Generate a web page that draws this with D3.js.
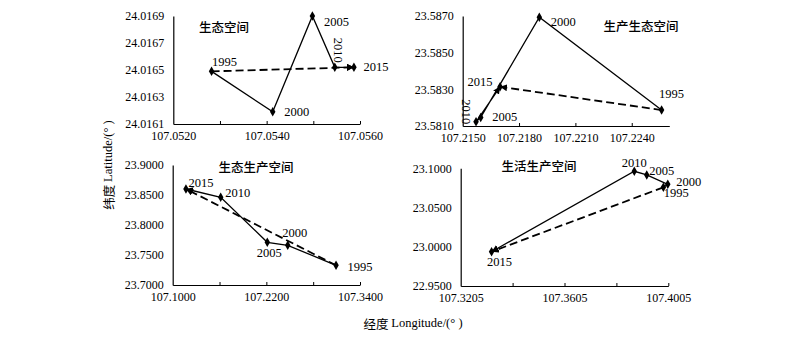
<!DOCTYPE html>
<html>
<head>
<meta charset="utf-8">
<script src="https://cdn.jsdelivr.net/npm/d3@7"></script>
<style>
  html, body { margin: 0; padding: 0; background: #fff; }
  svg { display: block; }
  .tick text { font-family: "Liberation Serif", "Times New Roman", serif; font-size: 12px; fill: #000; }
</style>
</head>
<body>
<svg id="chart" width="800" height="338"></svg>
<script>
// ---- data: centroid trajectories of four spatial types, 1995–2015 ----
const years = [1995, 2000, 2005, 2010, 2015];

const titles = ["生态空间", "生产生态空间", "生态生产空间", "生活生产空间"];

const lonEco      = [107.05282, 107.05413, 107.05498, 107.05546, 107.05587];
const latEco      = [24.01649, 24.01619, 24.01690, 24.01652, 24.01652];

const lonProdEco  = [107.22559, 107.21908, 107.21596, 107.21571, 107.21699];
const latProdEco  = [23.58187, 23.58693, 23.58147, 23.58123, 23.58314];

const lonEcoProd  = [107.3093, 107.2474, 107.2212, 107.1615, 107.1170];
const latEcoProd  = [23.7328, 23.7662, 23.7712, 23.8462, 23.8600];

const lonLifeProd = [107.3986, 107.4003, 107.3922, 107.3874, 107.3324];
const latLifeProd = [23.0758, 23.0796, 23.0915, 23.0962, 22.9937];

// axis domains and tick values
const xDomains = [[107.052, 107.056], [107.215, 107.226], [107.10, 107.34], [107.3205, 107.4005]];
const yDomains = [[24.0161, 24.0169], [23.581, 23.587], [23.70, 23.90], [22.95, 23.10]];
const xTicks = [
  [107.052, 107.053, 107.054, 107.055, 107.056],
  [107.215, 107.218, 107.221, 107.224],
  [107.10, 107.16, 107.22, 107.28, 107.34],
  [107.3205, 107.3405, 107.3605, 107.3805, 107.4005]
];
const xTickLabels = [
  ["107.0520", "", "107.0540", "", "107.0560"],
  ["107.2150", "107.2180", "107.2210", "107.2240"],
  ["107.1000", "", "107.2200", "", "107.3400"],
  ["107.3205", "", "107.3605", "", "107.4005"]
];
const yTicks = [
  [24.0161, 24.0163, 24.0165, 24.0167, 24.0169],
  [23.581, 23.583, 23.585, 23.587],
  [23.70, 23.75, 23.80, 23.85, 23.90],
  [22.95, 23.00, 23.05, 23.10]
];

const series = [
  { lon: lonEco, lat: latEco },
  { lon: lonProdEco, lat: latProdEco },
  { lon: lonEcoProd, lat: latEcoProd },
  { lon: lonLifeProd, lat: latLifeProd }
];

// ---- layout ----
const panels = [
  { x0: 173.3, x1: 360,   y0: 16,    y1: 124,  title: [224, 26],
    lab: [[13, -9, 0], [24, 0, 0], [24, 6, 0], [3, -17, 90], [22, 0, 0]] },
  { x0: 462.7, x1: 669.3, y0: 16,    y1: 126,  title: [641, 25],
    lab: [[10, -16, 0], [24, 5, 0], [24, 0, 0], [-10, -10, 90], [-20, -5, 0]] },
  { x0: 172.7, x1: 360,   y0: 165,   y1: 285,  title: [256, 166],
    lab: [[24, 2, 0], [7, -12, 0], [2, 11, 0], [17, -4, 0], [15, -6, 0]] },
  { x0: 460.7, x1: 668.3, y0: 168.3, y1: 286,  title: [539, 165],
    lab: [[13, 6, 0], [21, -2, 0], [15, -4, 0], [0, -8, 0], [8, 10, 0]] }
];

const svg = d3.select("#chart");
const defs = svg.append("defs");
defs.append("marker")
  .attr("id", "arrow")
  .attr("viewBox", "0 0 10 10")
  .attr("refX", 10).attr("refY", 5)
  .attr("markerWidth", 7).attr("markerHeight", 7)
  .attr("markerUnits", "userSpaceOnUse")
  .attr("orient", "auto")
  .append("path").attr("d", "M0,0 L10,5 L0,10 Z").attr("fill", "#000");

const serif = "'Liberation Serif', 'Times New Roman', serif";
const cjk = "'Noto Sans CJK SC', sans-serif";

panels.forEach((p, i) => {
  const x = d3.scaleLinear().domain(xDomains[i]).range([p.x0, p.x1]);
  const y = d3.scaleLinear().domain(yDomains[i]).range([p.y1, p.y0]);
  const g = svg.append("g");

  // x axis with short inward ticks
  const xa = g.append("g").attr("transform", `translate(0,${p.y1})`)
    .call(d3.axisBottom(x).tickValues(xTicks[i])
      .tickFormat((d, k) => xTickLabels[i][k]).tickSizeInner(-3).tickSizeOuter(0).tickPadding(7));
  xa.select(".domain").attr("stroke", "#000").attr("stroke-width", 1.2);
  xa.selectAll(".tick line").attr("stroke", "#000").attr("stroke-width", 1);
  xa.selectAll(".tick").filter(d => d === xDomains[i][0]).select("line").remove();

  // y axis
  const ya = g.append("g").attr("transform", `translate(${p.x0},0)`)
    .call(d3.axisLeft(y).tickValues(yTicks[i]).tickFormat(d3.format(".4f"))
      .tickSize(0).tickPadding(9));
  ya.select(".domain").attr("stroke", "#000").attr("stroke-width", 1.2);

  const s = series[i];
  const pts = years.map((yr, k) => [x(s.lon[k]), y(s.lat[k])]);

  // dashed start-to-end displacement
  g.append("line")
    .attr("x1", pts[0][0]).attr("y1", pts[0][1])
    .attr("x2", pts[4][0]).attr("y2", pts[4][1])
    .attr("stroke", "#000").attr("stroke-width", 1.8)
    .attr("stroke-dasharray", "8,4")
    .attr("marker-end", "url(#arrow)");

  // solid year-by-year path
  g.append("path")
    .attr("d", d3.line()(pts))
    .attr("fill", "none").attr("stroke", "#000").attr("stroke-width", 1.3)
    .attr("marker-end", "url(#arrow)");

  // diamond markers
  g.selectAll(".pt").data(pts).join("path")
    .attr("transform", d => `translate(${d[0]},${d[1]})`)
    .attr("d", d3.symbol(d3.symbolDiamond).size(26))
    .attr("fill", "#000");

  // year labels
  g.selectAll(".yr").data(years).join("text")
    .attr("transform", (d, k) => {
      const [dx, dy, rot] = p.lab[k];
      return `translate(${pts[k][0] + dx},${pts[k][1] + dy}) rotate(${rot})`;
    })
    .attr("text-anchor", "middle").attr("dominant-baseline", "central")
    .attr("font-family", serif).attr("font-size", 12.5)
    .text(d => d);

  // panel title
  g.append("text")
    .attr("x", p.title[0]).attr("y", p.title[1])
    .attr("text-anchor", "middle").attr("dominant-baseline", "central")
    .attr("font-family", cjk).attr("font-size", 12.5).attr("font-weight", 500)
    .text(titles[i]);
});

// shared axis titles
const yt = svg.append("text")
  .attr("transform", "translate(108,165) rotate(-90)")
  .attr("text-anchor", "middle").attr("dominant-baseline", "central")
  .attr("font-size", 12.5);
yt.append("tspan").attr("font-family", cjk).text("纬度 ");
yt.append("tspan").attr("font-family", serif).text("Latitude/(° )");

const xt = svg.append("text")
  .attr("x", 413).attr("y", 323)
  .attr("text-anchor", "middle").attr("dominant-baseline", "central")
  .attr("font-size", 12.5);
xt.append("tspan").attr("font-family", cjk).text("经度 ");
xt.append("tspan").attr("font-family", serif).text("Longitude/(° )");
</script>
</body>
</html>
